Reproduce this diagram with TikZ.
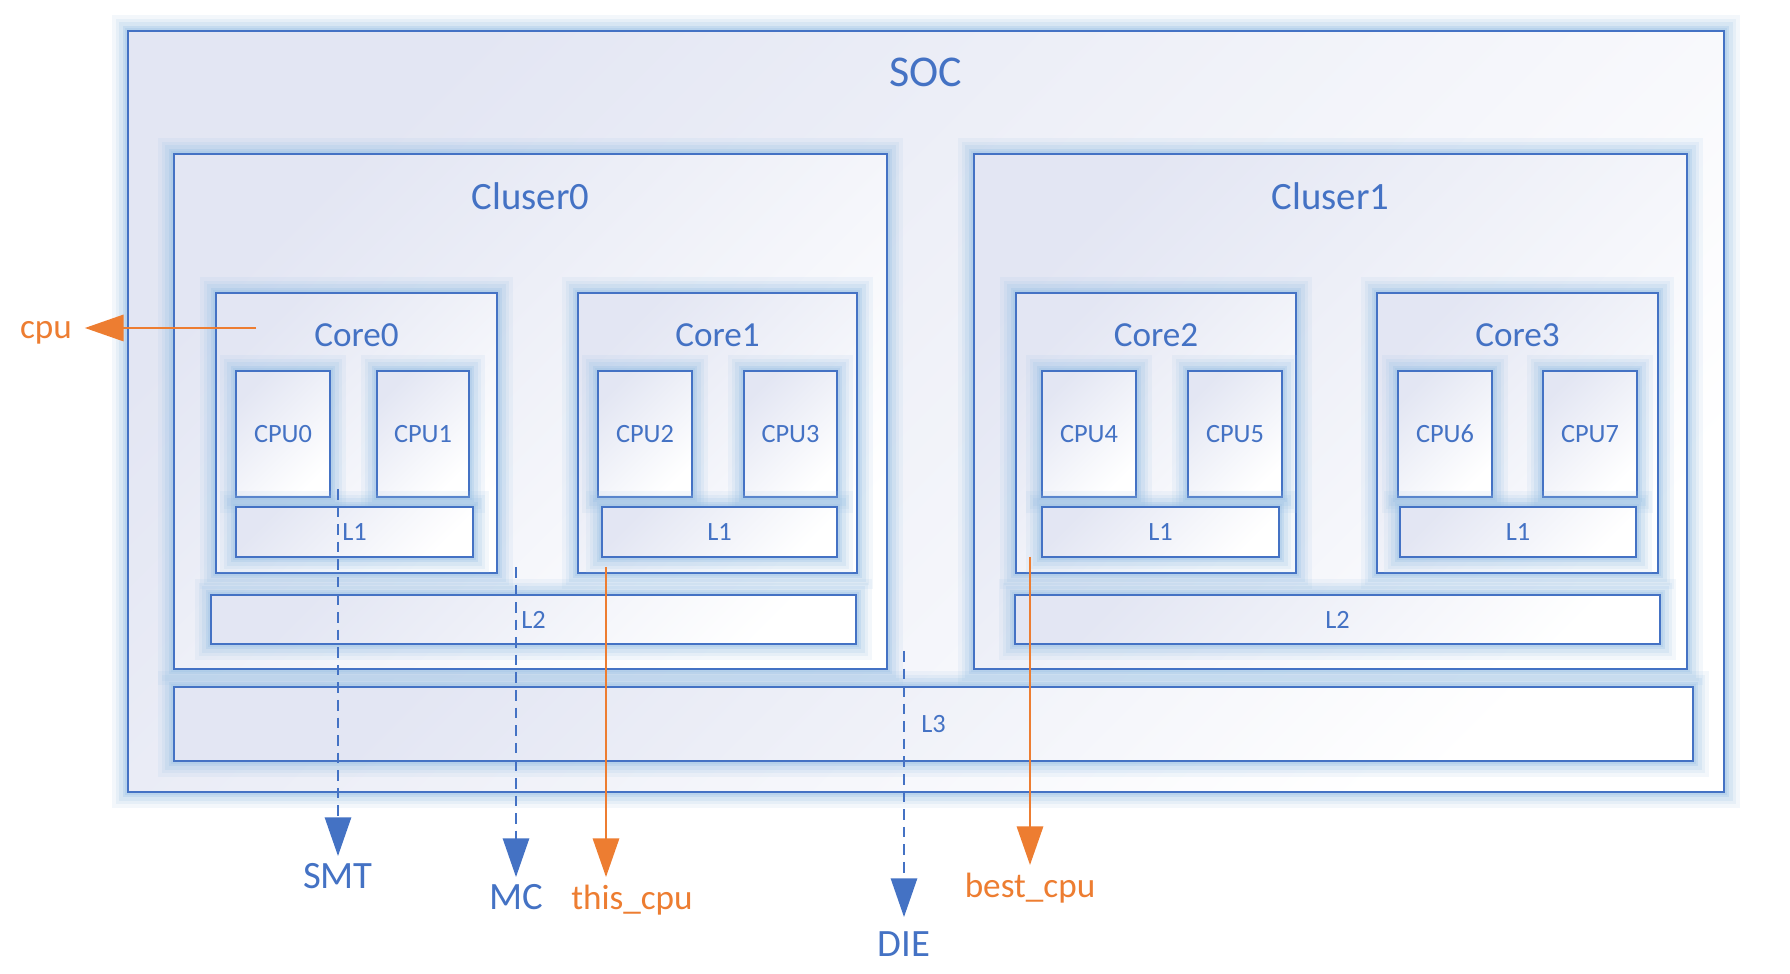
\documentclass[tikz,border=0pt]{standalone}
\usepackage{fontspec}
\setmainfont{Carlito}
\usetikzlibrary{arrows.meta,fit,positioning}

\definecolor{boxblue}{HTML}{4472C4}
\definecolor{glowblue}{HTML}{9DC3E6}
\definecolor{lavender}{HTML}{E3E6F3}
\definecolor{pickorange}{HTML}{ED7D31}

\begin{document}
\begin{tikzpicture}[x=0.01cm, y=-0.01cm,
    glowbox/.style={inner sep=0pt, draw=boxblue, line width=0.6pt,
      preaction={draw=glowblue, line width=9pt, opacity=0.12},
      preaction={draw=glowblue, line width=7pt, opacity=0.15},
      preaction={draw=glowblue, line width=5pt, opacity=0.2},
      preaction={draw=glowblue, line width=3pt, opacity=0.3},
      preaction={draw=glowblue, line width=1.5pt, opacity=0.3},
      top color=lavender, bottom color=white, shading angle=45},
    boxtext/.style={text=boxblue, font=\fontsize{7.5}{9}\selectfont},
    boxtitle/.style={text=boxblue, font=\fontsize{11}{13}\selectfont},
    levellbl/.style={text=boxblue, font=\fontsize{11}{13}\selectfont, anchor=north, inner sep=2pt},
    picklbl/.style={text=pickorange, font=\fontsize{10}{12}\selectfont, anchor=north, inner sep=2pt},
    levelline/.style={boxblue, line width=0.5pt, dash pattern=on 3pt off 2pt,
      -{Triangle[width=7.5pt, length=11pt]}},
    pickline/.style={pickorange, line width=0.6pt,
      -{Triangle[width=7.5pt, length=11pt]}}]

  \useasboundingbox (0,0) rectangle (1790,974);
  \fill[white] (0,0) rectangle (1790,974);

  % SOC and clusters
  \node[glowbox, fit={(128,31) (1724,792)}] (soc) {};
  \node[boxtitle, font=\fontsize{12.5}{15}\selectfont] (soctitle) at ([yshift=-0.42cm]soc.north) {SOC};
  \node[glowbox, fit={(174,154) (887,669)}] (cluster0) {};
  \node[boxtitle] (cluster0title) at ([yshift=-0.43cm]cluster0.north) {Cluser0};
  \node[glowbox, fit={(974,154) (1687,669)}] (cluster1) {};
  \node[boxtitle] (cluster1title) at ([yshift=-0.43cm]cluster1.north) {Cluser1};
  \node[glowbox, fit={(174,687) (1693,761)}, label={[boxtext]center:L3}] (l3) {};

  % Cores
  \foreach \i/\xa/\xb in {0/216/497, 1/578/857, 2/1016/1296, 3/1377/1658} {
    \node[glowbox, fit={(\xa,293) (\xb,573)}] (core\i) {};
    \node[boxtitle, font=\fontsize{10}{12}\selectfont] (core\i title) at ([yshift=-0.43cm]core\i.north) {Core\i};
  }

  % L2 caches
  \node[glowbox, fit={(211,595) (856,644)}, label={[boxtext]center:L2}] (l2a) {};
  \node[glowbox, fit={(1015,595) (1660,644)}, label={[boxtext]center:L2}] (l2b) {};

  % CPUs
  \foreach \i/\xa/\xb in {0/236/330, 1/377/469, 2/598/692, 3/744/837,
                          4/1042/1136, 5/1188/1282, 6/1398/1492, 7/1543/1637} {
    \node[glowbox, fit={(\xa,371) (\xb,497)}, label={[boxtext]center:CPU\i}] (cpu\i) {};
  }

  % L1 caches
  \foreach \i/\xa/\xb in {0/236/473, 1/602/837, 2/1042/1279, 3/1400/1636} {
    \node[glowbox, fit={(\xa,507) (\xb,557)}, label={[boxtext]center:L1}] (l1\i) {};
  }

  % Sched domain levels
  \coordinate (smtsrc) at (338,489);
  \coordinate (mcsrc) at (516,567);
  \coordinate (diesrc) at (904,651);
  \node[levellbl] (smt) at (338,856) {SMT};
  \node[levellbl] (mc) at (516,877) {MC};
  \node[levellbl, inner sep=4pt] (die) at (904,917) {DIE};
  \draw[levelline] (smtsrc) -- (smt.north);
  \draw[levelline] (mcsrc) -- (mc.north);
  \draw[levelline] (diesrc) -- (die.north);

  % Balancing cpus
  \coordinate (cpusrc) at (256,328);
  \coordinate (thissrc) at (606,567);
  \coordinate (bestsrc) at (1030,557);
  \node[picklbl, anchor=center, inner sep=3.5pt] (cpu) at (46,333) {cpu};
  \node[picklbl] (thiscpu) at (632,877) {this\_cpu};
  \node[picklbl] (bestcpu) at (1030,865) {best\_cpu};
  \draw[pickline] (cpusrc) -- (cpusrc -| cpu.east);
  \draw[pickline] (thissrc) -- (thissrc |- thiscpu.north);
  \draw[pickline] (bestsrc) -- (bestcpu.north);
\end{tikzpicture}
\end{document}
